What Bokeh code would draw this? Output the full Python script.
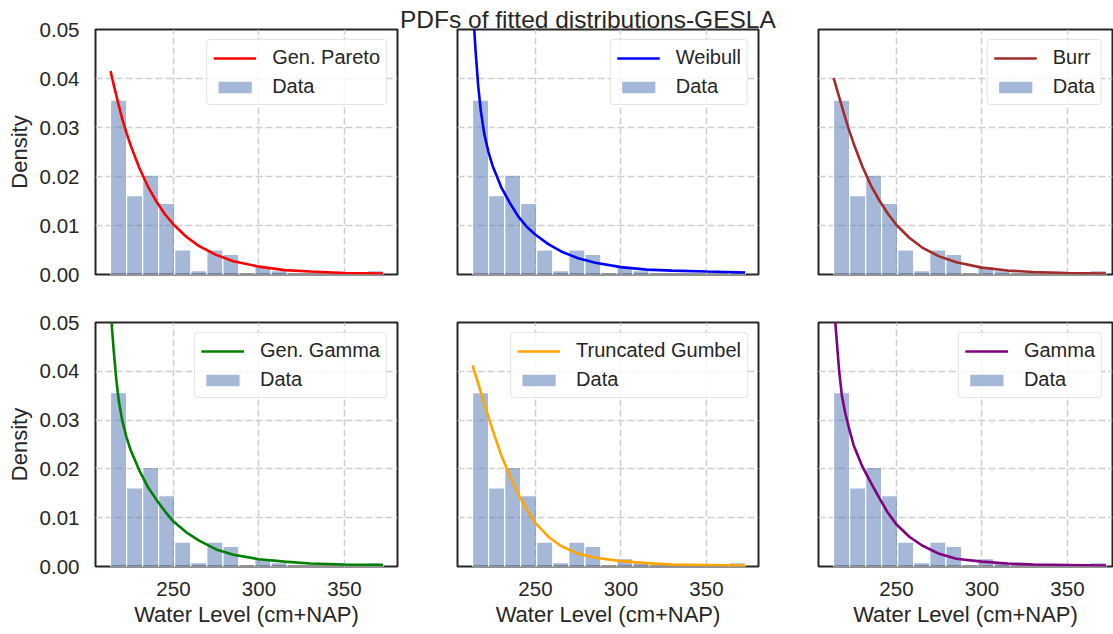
from bokeh.plotting import figure
from bokeh.models import FixedTicker, PrintfTickFormatter, Legend, LegendItem, Div
from bokeh.layouts import row, column
from bokeh.embed import file_html
from bokeh.resources import INLINE

# ---------------- data ----------------
title_text = "PDFs of fitted distributions-GESLA"
x_label = "Water Level (cm+NAP)"
y_label = "Density"
data_label = "Data"

x_ticks = [250, 300, 350]
y_ticks = [0.0, 0.01, 0.02, 0.03, 0.04, 0.05]

bin_edges = [213.2, 222.6, 232.0, 241.3, 250.7, 260.1, 269.5, 278.9, 288.2,
             297.6, 307.0, 316.4, 325.8, 335.1, 344.5, 353.9, 363.3, 372.7]
hist_density = [0.0356, 0.0161, 0.0203, 0.0145, 0.0050, 0.0008, 0.0050, 0.0041, 0.0,
                0.0016, 0.0008, 0.0, 0.0, 0.0, 0.0, 0.0, 0.0008]

curve_x = [213.2, 214, 215, 216.5, 218, 220, 222.5, 225, 230, 235, 240, 245, 250,
           257.5, 265, 275, 285, 300, 315, 330, 350, 372.6]

dist_names = ["Gen. Pareto", "Weibull", "Burr", "Gen. Gamma", "Truncated Gumbel", "Gamma"]
dist_colors = ["#ff0000", "#0000ff", "#a52a2a", "#008000", "#ffa500", "#800080"]

pdf_gen_pareto = [0.0415, 0.0403, 0.0388, 0.0366, 0.0345, 0.0318, 0.0289, 0.0263, 0.0218, 0.0180,
                  0.0149, 0.0123, 0.0102, 0.0077, 0.0058, 0.0040, 0.0027, 0.0016, 0.0009, 0.0006,
                  0.0003, 0.0002]
pdf_weibull = [0.064, 0.051, 0.0455, 0.0385, 0.0335, 0.0288, 0.0250, 0.0221, 0.0178, 0.0146,
               0.0118, 0.0097, 0.0081, 0.0062, 0.0047, 0.0033, 0.0024, 0.0015, 0.0010, 0.0008,
               0.0006, 0.0004]
pdf_burr = [0.0401, 0.0392, 0.0380, 0.0362, 0.0344, 0.0320, 0.0292, 0.0267, 0.0221, 0.0182,
            0.0151, 0.0124, 0.0101, 0.0075, 0.0055, 0.0037, 0.0025, 0.0014, 0.0008, 0.0005,
            0.0003, 0.0002]
pdf_gen_gamma = [0.060, 0.049, 0.0445, 0.0385, 0.0340, 0.0300, 0.0265, 0.0238, 0.0197, 0.0163,
                 0.0137, 0.0113, 0.0092, 0.0070, 0.0053, 0.0035, 0.0024, 0.0015, 0.0010, 0.0006,
                 0.0004, 0.0003]
pdf_trunc_gumbel = [0.0412, 0.0403, 0.0392, 0.0375, 0.0358, 0.0335, 0.0306, 0.0279, 0.0228, 0.0186,
                    0.0148, 0.0116, 0.0089, 0.0061, 0.0042, 0.0026, 0.0018, 0.0011, 0.0007, 0.0004,
                    0.0003, 0.0002]
pdf_gamma = [0.062, 0.051, 0.0465, 0.0400, 0.0352, 0.0315, 0.0280, 0.0248, 0.0205, 0.0172,
             0.0140, 0.0110, 0.0086, 0.0061, 0.0043, 0.0026, 0.0016, 0.0010, 0.0006, 0.0004,
             0.0003, 0.0002]

dist_pdfs = [pdf_gen_pareto, pdf_weibull, pdf_burr, pdf_gen_gamma, pdf_trunc_gumbel, pdf_gamma]

# ---------------- layout / style ----------------
FONT = "Liberation Sans"
INK = "#262626"
BAR_COLOR = "#4c72b0"
GRID_COLOR = "#cfcfcf"

col_widths = [399, 389, 325]
col_borders = [(95, 2), (58, 30), (30, 1)]
TITLE_H = 28
row_heights = [298, 336]
row_borders = [(29, 24), (24, 68)]
X_START = 204.4
PX_PER_UNIT = 1.71


def make_panel(r, c):
    i = r * 3 + c
    bl, br = col_borders[c]
    bt, bb = row_borders[r]
    h = row_heights[r]
    if r == 0 and c == 1:
        bt -= TITLE_H
        h -= TITLE_H
    frame_w = col_widths[c] - bl - br
    p = figure(width=col_widths[c], height=h,
               x_range=(X_START, X_START + frame_w / PX_PER_UNIT), y_range=(0, 0.05),
               output_backend="svg", toolbar_location=None,
               min_border_left=bl, min_border_right=br,
               min_border_top=bt, min_border_bottom=bb)
    p.background_fill_color = "white"
    p.border_fill_color = "white"
    p.outline_line_color = INK
    p.outline_line_width = 2

    p.xgrid.ticker = FixedTicker(ticks=x_ticks)
    p.ygrid.ticker = FixedTicker(ticks=y_ticks)
    p.grid.grid_line_color = GRID_COLOR
    p.grid.grid_line_dash = "7 3"
    p.grid.grid_line_width = 1.5

    p.xaxis.ticker = FixedTicker(ticks=x_ticks)
    p.yaxis.ticker = FixedTicker(ticks=y_ticks)
    p.yaxis.formatter = PrintfTickFormatter(format="%.2f")
    for ax in p.axis:
        ax.axis_line_color = None
        ax.major_tick_line_color = None
        ax.minor_tick_line_color = None
        ax.major_tick_out = 0
        ax.major_tick_in = 0
        ax.minor_tick_out = 0
        ax.minor_tick_in = 0
        ax.major_label_text_font = FONT
        ax.major_label_text_font_size = "20.5px"
        ax.major_label_text_color = INK
        ax.axis_label_text_font = FONT
        ax.axis_label_text_font_size = "22px"
        ax.axis_label_text_font_style = "normal"
        ax.axis_label_text_color = INK
    p.xaxis.major_label_standoff = 15
    p.xaxis.axis_label_standoff = 3
    p.yaxis.major_label_standoff = 16
    p.yaxis.axis_label_standoff = 5
    p.xaxis.visible = (r == 1)
    p.yaxis.visible = (c == 0)
    if r == 1:
        p.xaxis.axis_label = x_label
    if c == 0:
        p.yaxis.axis_label = y_label

    bars = p.quad(left=bin_edges[:-1], right=bin_edges[1:], bottom=0, top=hist_density,
                  fill_color=BAR_COLOR, fill_alpha=0.5, line_color="white", line_width=1.2)
    ln = p.line(curve_x, dist_pdfs[i], line_color=dist_colors[i], line_width=2.6)

    legend = Legend(items=[LegendItem(label=dist_names[i], renderers=[ln]),
                           LegendItem(label=data_label, renderers=[bars])],
                    location="top_right", margin=10, padding=6, spacing=6,
                    glyph_width=43, glyph_height=16, label_standoff=16,
                    label_text_font=FONT, label_text_font_size="20px", label_text_color=INK,
                    border_line_color="#cccccc", border_line_width=1,
                    background_fill_color="white", background_fill_alpha=0.8)
    if "border_radius" in Legend.properties():
        legend.border_radius = 4
    p.add_layout(legend, "center")
    return p


title_div = Div(text=title_text, width=col_widths[1], height=TITLE_H,
                styles={"font-family": FONT, "font-size": "24.5px", "color": INK,
                        "line-height": "39px", "white-space": "nowrap",
                        "padding-left": "1px", "margin": "0"})

col1 = column(make_panel(0, 0), make_panel(1, 0))
col2 = column(title_div, make_panel(0, 1), make_panel(1, 1))
col3 = column(make_panel(0, 2), make_panel(1, 2))
layout = row(col1, col2, col3)

with open("out.html", "w") as f:
    f.write(file_html(layout, INLINE))
